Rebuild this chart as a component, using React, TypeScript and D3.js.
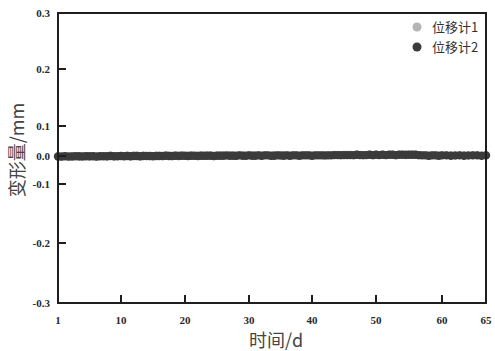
import React from "react";
import * as d3 from "d3";

const days: number[] = d3.range(1, 65.25, 0.5);
const series1: number[] = [
  0.000, -0.004, 0.001, -0.003, 0.000, 0.001, -0.004, 0.000, 0.001, -0.003,
  0.001, -0.004, 0.001, 0.000, -0.003, 0.002, -0.003, 0.001, 0.001, -0.002,
  0.002, -0.003, 0.002, 0.002, -0.003, 0.002, 0.001, -0.002, 0.001, 0.002,
  0.002, -0.002, 0.003, 0.002, -0.002, 0.003, 0.002, 0.003, -0.001, 0.002,
  0.003, -0.001, 0.002, 0.003, -0.001, 0.003, 0.003, -0.002, 0.003, 0.003,
  0.003, 0.000, 0.003, 0.003, -0.001, 0.004, 0.003, 0.000, 0.004, 0.003,
  0.003, 0.004, -0.001, 0.004, 0.003, 0.000, 0.004, 0.004, -0.001, 0.004,
  0.004, 0.000, 0.004, 0.004, 0.000, 0.004, 0.004, 0.004, 0.000, 0.004,
  0.004, 0.004, 0.000, 0.004, 0.004, 0.005, 0.005, 0.001, 0.005, 0.005,
  0.005, 0.001, 0.006, 0.005, 0.001, 0.005, 0.006, 0.001, 0.006, 0.005,
  0.006, 0.002, 0.006, 0.006, 0.001, 0.006, 0.006, 0.002, 0.006, 0.006,
  0.006, 0.001, 0.004, 0.004, -0.001, 0.004, 0.004, 0.000, 0.004, 0.004,
  0.003, 0.000, 0.004, 0.003, 0.000, 0.004, 0.004, 0.000, 0.004,
];
const series2: number[] = [
  -0.002, -0.002, -0.001, -0.002, -0.002, -0.001, -0.001, -0.002, -0.001, -0.001,
  -0.001, -0.002, -0.001, -0.001, -0.001, 0.000, -0.001, -0.001, 0.000, -0.001,
  0.000, -0.001, 0.000, 0.000, -0.001, 0.000, 0.000, 0.000, -0.001, 0.000,
  0.000, 0.000, 0.001, 0.000, 0.000, 0.001, 0.000, 0.001, 0.001, 0.000,
  0.001, 0.001, 0.000, 0.001, 0.001, 0.001, 0.001, 0.000, 0.001, 0.001,
  0.001, 0.002, 0.001, 0.001, 0.001, 0.002, 0.001, 0.001, 0.002, 0.001,
  0.001, 0.002, 0.001, 0.002, 0.002, 0.001, 0.001, 0.002, 0.002, 0.001,
  0.002, 0.001, 0.002, 0.002, 0.001, 0.002, 0.002, 0.002, 0.001, 0.002,
  0.002, 0.002, 0.002, 0.002, 0.002, 0.003, 0.003, 0.003, 0.003, 0.003,
  0.003, 0.003, 0.004, 0.003, 0.003, 0.003, 0.004, 0.003, 0.004, 0.003,
  0.004, 0.003, 0.004, 0.004, 0.003, 0.004, 0.004, 0.004, 0.004, 0.004,
  0.004, 0.003, 0.002, 0.002, 0.001, 0.002, 0.002, 0.001, 0.002, 0.002,
  0.001, 0.002, 0.002, 0.001, 0.002, 0.002, 0.002, 0.001, 0.002,
];
const xTicks: number[] = [1, 10, 20, 30, 40, 50, 60, 65];
const yTicks: number[] = [-0.3, -0.2, -0.1, 0, 0.1, 0.2, 0.3];
const seriesNames: string[] = ["位移计1", "位移计2"];
const seriesColors: string[] = ["#b4b4b4", "#3b3b3b"];

const x = d3.scaleLinear().domain(xTicks).range([58, 121, 185, 249, 312, 376, 442, 486]);
const y = d3.scaleLinear().domain(yTicks).range([303, 243, 184, 156, 126, 69, 13]);

export default function App() {
  const left = 58, right = 486, top = 13, bottom = 303;
  const allSeries = [series1, series2];
  const fmt = (t: number) => d3.format(".1f")(t).replace("\u2212", "-");
  return (
    <svg width={495} height={351} style={{ position: "absolute", left: 0, top: 0, background: "#fff" }}>
      {allSeries.map((s, si) => (
        <g key={si}>
          {s.map((v, i) => (
            <circle key={i} cx={x(days[i])} cy={y(v)} r={si === 0 ? 3.8 : 4.2} fill={seriesColors[si]} />
          ))}
        </g>
      ))}
      <rect x={left} y={top} width={right - left} height={bottom - top} fill="none" stroke="#1e1e1e" strokeWidth={2} />
      {xTicks.filter((t) => t !== 1 && t !== 65).map((t) => (
        <line key={t} x1={x(t)} x2={x(t)} y1={bottom} y2={bottom - 8} stroke="#1e1e1e" strokeWidth={2} />
      ))}
      {yTicks.filter((t) => Math.abs(t) < 0.25).map((t) => (
        <line key={t} x1={left} x2={left + 8} y1={y(t)} y2={y(t)} stroke="#1e1e1e" strokeWidth={2} />
      ))}
      {xTicks.map((t) => (
        <text key={t} x={x(t)} y={324} textAnchor="middle" fontFamily="Liberation Serif" fontWeight="bold" fontSize={11} fill="#2a2a2a">
          {t}
        </text>
      ))}
      {yTicks.map((t) => (
        <text key={t} x={50} y={y(t) + 4} textAnchor="end" fontFamily="Liberation Serif" fontWeight="bold" fontSize={11} fill="#2a2a2a">
          {fmt(t)}
        </text>
      ))}
      <text x={276} y={347} textAnchor="middle" fontFamily="Noto Sans CJK SC" fontSize={18} fill="#444">
        时间/d
      </text>
      <text transform={`translate(24,150) rotate(-90)`} textAnchor="middle" fontFamily="Noto Sans CJK SC" fontSize={18} fill="#444">
        变形量/mm
      </text>
      {seriesNames.map((n, i) => (
        <g key={n} transform={`translate(417,${27 + i * 20})`}>
          <circle cx={0} cy={0} r={4.5} fill={seriesColors[i]} />
          <text x={15} y={5} fontFamily="Noto Sans CJK SC" fontSize={13} fill="#333">
            {n}
          </text>
        </g>
      ))}
    </svg>
  );
}
